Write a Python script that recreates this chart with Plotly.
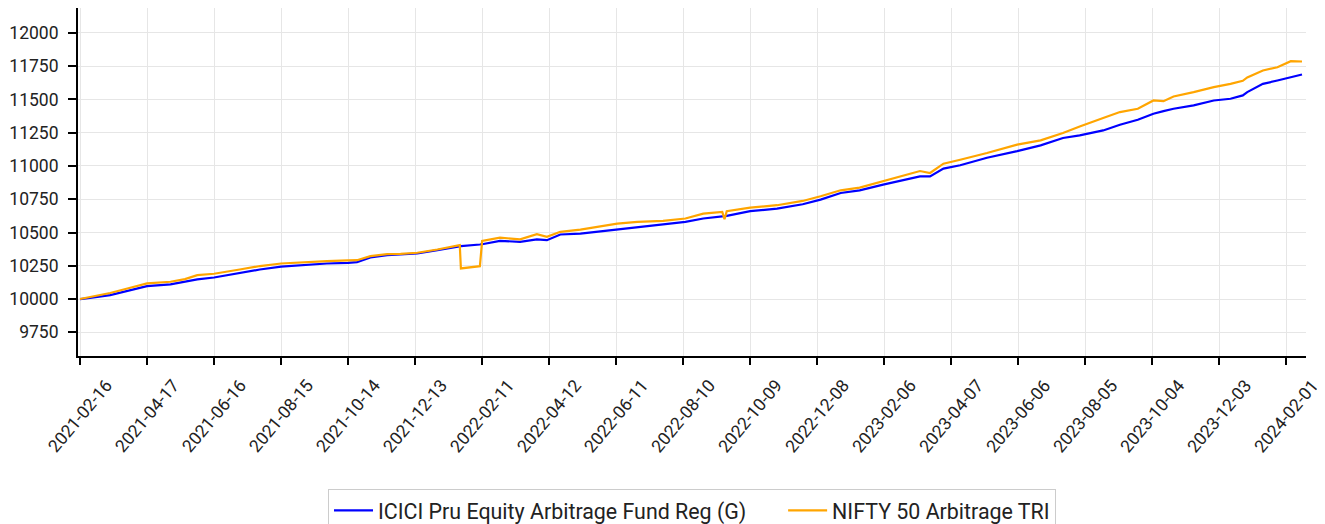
import plotly.graph_objects as go

dates = [
    "2021-02-16", "2021-02-25", "2021-03-15", "2021-04-02", "2021-04-17", "2021-05-08",
    "2021-05-21", "2021-06-01", "2021-06-16", "2021-07-09", "2021-07-27", "2021-08-15",
    "2021-09-05", "2021-09-25", "2021-10-14", "2021-10-22", "2021-11-03", "2021-11-18",
    "2021-11-30", "2021-12-15", "2022-01-02", "2022-01-22", "2022-01-23", "2022-02-09",
    "2022-02-11", "2022-02-27", "2022-03-17", "2022-04-01", "2022-04-10", "2022-04-22",
    "2022-05-10", "2022-05-28", "2022-06-12", "2022-06-30", "2022-07-23", "2022-08-12",
    "2022-08-28", "2022-09-14", "2022-09-16", "2022-09-18", "2022-10-09", "2022-11-02",
    "2022-11-25", "2022-12-11", "2022-12-29", "2023-01-15", "2023-02-05", "2023-02-23",
    "2023-03-10", "2023-03-19", "2023-03-31", "2023-04-15", "2023-05-09", "2023-06-05",
    "2023-06-26", "2023-07-16", "2023-07-31", "2023-08-21", "2023-09-05", "2023-09-21",
    "2023-10-05", "2023-10-14", "2023-10-23", "2023-11-10", "2023-11-28", "2023-12-13",
    "2023-12-24", "2023-12-28", "2024-01-11", "2024-01-24", "2024-02-05", "2024-02-15",
]

fund_values = [
    10000, 10008, 10030, 10065, 10097, 10110,
    10128, 10148, 10162, 10195, 10222, 10243,
    10258, 10267, 10272, 10278, 10312, 10330,
    10335, 10342, 10367, 10397, 10398, 10410,
    10412, 10437, 10430, 10448, 10442, 10485,
    10492, 10508, 10522, 10542, 10560, 10580,
    10605, 10622, 10622, 10625, 10660, 10680,
    10712, 10747, 10797, 10817, 10860, 10892,
    10922, 10922, 10980, 11005, 11062, 11112,
    11155, 11210, 11230, 11267, 11310, 11347,
    11392, 11412, 11430, 11455, 11492, 11505,
    11530, 11555, 11617, 11642, 11667, 11687,
]

index_values = [
    10000, 10015, 10045, 10085, 10118, 10130,
    10150, 10180, 10190, 10222, 10248, 10267,
    10278, 10285, 10290, 10292, 10322, 10337,
    10340, 10348, 10372, 10405, 10230, 10247,
    10437, 10462, 10448, 10487, 10467, 10505,
    10522, 10545, 10567, 10580, 10588, 10605,
    10642, 10655, 10600, 10660, 10687, 10705,
    10737, 10772, 10817, 10837, 10885, 10922,
    10962, 10947, 11017, 11047, 11097, 11160,
    11192, 11247, 11297, 11360, 11405, 11430,
    11492, 11487, 11522, 11555, 11592, 11617,
    11640, 11665, 11717, 11742, 11787, 11785,
]

series_names = ["ICICI Pru Equity Arbitrage Fund Reg (G)", "NIFTY 50 Arbitrage TRI"]
y_ticks = [9750, 10000, 10250, 10500, 10750, 11000, 11250, 11500, 11750, 12000]
x_ticks = [
    "2021-02-16", "2021-04-17", "2021-06-16", "2021-08-15", "2021-10-14", "2021-12-13",
    "2022-02-11", "2022-04-12", "2022-06-11", "2022-08-10", "2022-10-09", "2022-12-08",
    "2023-02-06", "2023-04-07", "2023-06-06", "2023-08-05", "2023-10-04", "2023-12-03",
    "2024-02-01",
]

TICK_FONT = dict(family="Roboto", size=17.5, color="#222")

fig = go.Figure()
fig.add_trace(go.Scatter(x=dates, y=fund_values, mode="lines",
                         name=series_names[0] + "\u00a0" * 6,
                         line=dict(color="#0000ff", width=2.2)))
fig.add_trace(go.Scatter(x=dates, y=index_values, mode="lines", name=series_names[1],
                         line=dict(color="#ffa500", width=2.2)))

# rotated x tick labels, centred under each tick
for d in x_ticks:
    fig.add_annotation(x=d, xref="x", y=-0.1724, yref="paper", text=d,
                       showarrow=False, textangle=-50, xanchor="center",
                       yanchor="middle", font=TICK_FONT)

fig.update_layout(
    width=1317, height=516,
    margin=dict(l=70, r=19, t=0, b=168, autoexpand=False),
    plot_bgcolor="white", paper_bgcolor="white",
    font=dict(family="Roboto", size=17.5, color="#222"),
    showlegend=True,
    legend=dict(orientation="h", x=0.5, xanchor="center", y=-0.382, yanchor="top",
                bordercolor="#cccccc", borderwidth=1, itemwidth=39,
                font=dict(size=21.4, color="#222")),
    xaxis=dict(
        type="date",
        range=["2021-02-14 05:00", "2024-02-18 14:00"],
        tickvals=x_ticks, showticklabels=False, automargin=False,
        showline=True, linecolor="black", linewidth=2,
        ticks="outside", ticklen=7, tickcolor="black", tickwidth=2,
        showgrid=True, gridcolor="#e6e6e6", gridwidth=1,
        zeroline=False,
    ),
    yaxis=dict(
        range=[9572, 12187],
        tickvals=y_ticks, tickformat="d", automargin=False,
        tickfont=TICK_FONT, ticklabelstandoff=6,
        showline=True, linecolor="black", linewidth=2,
        ticks="outside", ticklen=8, tickcolor="black", tickwidth=2,
        showgrid=True, gridcolor="#e6e6e6", gridwidth=1,
        zeroline=False,
    ),
)

fig.write_html("out.html")
